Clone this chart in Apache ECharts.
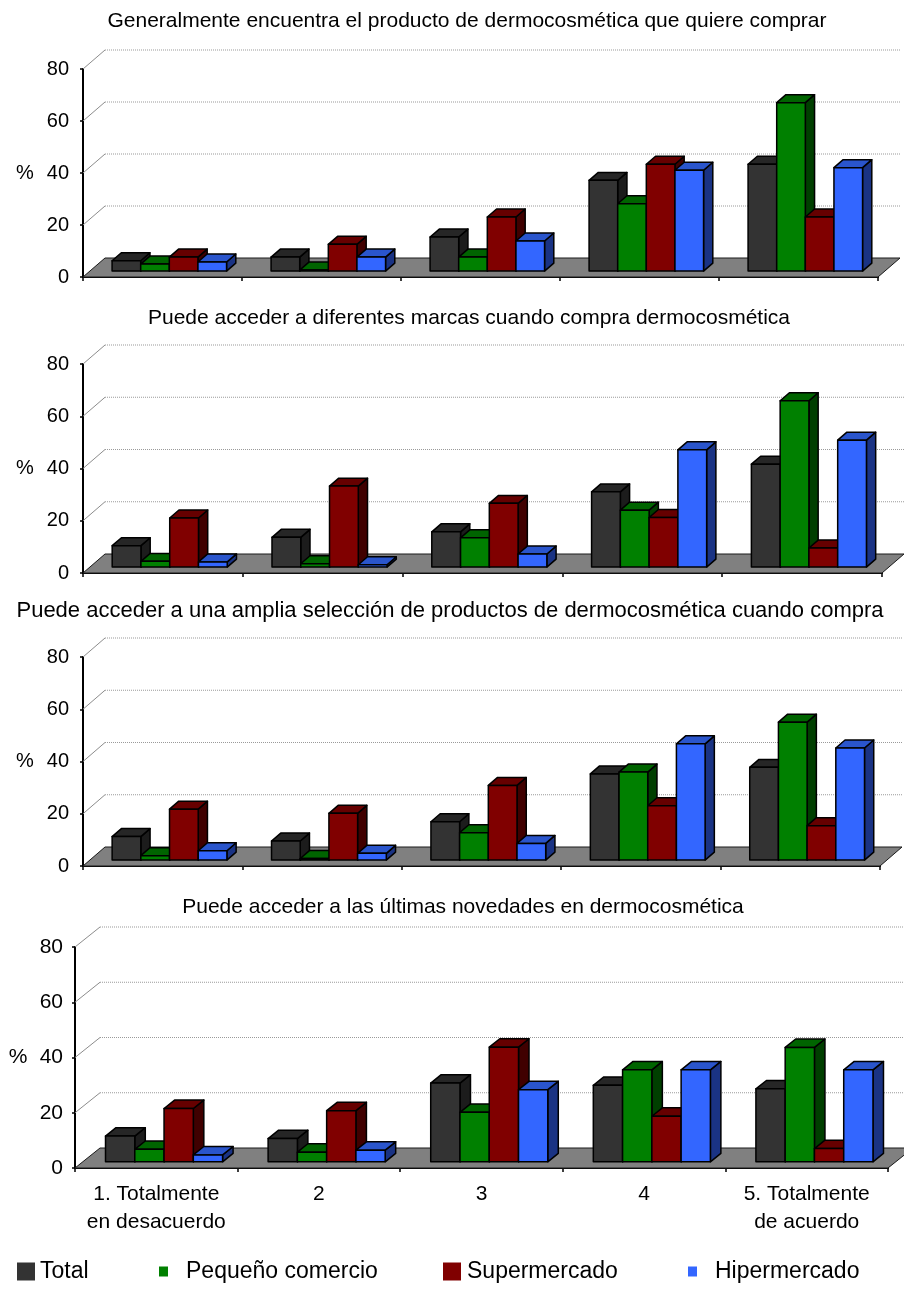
<!DOCTYPE html>
<html>
<head>
<meta charset="utf-8">
<script src="https://cdn.jsdelivr.net/npm/echarts@6/dist/echarts.min.js"></script>
<style>
  html, body { margin: 0; padding: 0; background: #ffffff; }
  #chart { width: 904px; height: 1297px; }
</style>
</head>
<body>
<div id="chart"></div>
<script>
// ---- data -------------------------------------------------------------
const categories = ['1. Totalmente\nen desacuerdo', '2', '3', '4', '5. Totalmente\nde acuerdo'];
const seriesNames = ['Total', 'Pequeño comercio', 'Supermercado', 'Hipermercado'];
const panelTitles = [
  'Generalmente encuentra el producto de dermocosmética que quiere comprar',
  'Puede acceder a diferentes marcas cuando compra dermocosmética',
  'Puede acceder a una amplia selección de productos de dermocosmética cuando compra',
  'Puede acceder a las últimas novedades en dermocosmética'
];
const yTicks = [0, 20, 40, 60, 80];

// Generalmente encuentra el producto que quiere comprar (%)
const encuentraTotal   = [4.0, 5.4, 13.1, 34.9, 41.1];
const encuentraPequeno = [2.7, 0.4, 5.4, 25.9, 64.8];
const encuentraSuper   = [5.4, 10.3, 20.8, 41.1, 20.8];
const encuentraHiper   = [3.5, 5.4, 11.6, 38.8, 39.8];

// Puede acceder a diferentes marcas (%)
const marcasTotal   = [8.2, 11.4, 13.5, 28.8, 39.4];
const marcasPequeno = [2.2, 1.3, 11.2, 21.8, 63.7];
const marcasSuper   = [18.8, 31.0, 24.4, 19.0, 7.3];
const marcasHiper   = [2.0, 0.9, 5.0, 44.9, 48.6];

// Puede acceder a una amplia selección de productos (%)
const seleccionTotal   = [9.0, 7.3, 14.7, 33.0, 35.5];
const seleccionPequeno = [1.7, 0.6, 10.5, 33.7, 52.8];
const seleccionSuper   = [19.5, 17.9, 28.6, 20.8, 13.2];
const seleccionHiper   = [3.6, 2.6, 6.4, 44.5, 42.9];

// Puede acceder a las últimas novedades (%)
const novedadesTotal   = [9.3, 8.4, 28.5, 27.7, 26.4];
const novedadesPequeno = [4.5, 3.5, 17.9, 33.3, 41.4];
const novedadesSuper   = [19.3, 18.5, 41.5, 16.5, 4.8];
const novedadesHiper   = [2.5, 4.2, 26.1, 33.3, 33.3];

const panelValues = [
  [encuentraTotal, encuentraPequeno, encuentraSuper, encuentraHiper],
  [marcasTotal, marcasPequeno, marcasSuper, marcasHiper],
  [seleccionTotal, seleccionPequeno, seleccionSuper, seleccionHiper],
  [novedadesTotal, novedadesPequeno, novedadesSuper, novedadesHiper]
];

// ---- look -------------------------------------------------------------
const FONT = '"Liberation Sans", Arial, Helvetica, sans-serif';
const faceColors = [
  { front: '#333333', top: '#262626', side: '#1c1c1c' },
  { front: '#008000', top: '#006400', side: '#003f00' },
  { front: '#800000', top: '#660000', side: '#400000' },
  { front: '#3366ff', top: '#2a55cc', side: '#1a3384' }
];

// front plane of each panel plus its oblique depth offset
const layouts = [
  { left: 83, top: 69,  width: 795, height: 208, dx: 22, dy: -19, titleX: 467, titleY: 21,  titleFont: 21, font: 20, margin: 14, pctX: 25 },
  { left: 83, top: 364, width: 799, height: 209, dx: 22, dy: -19, titleX: 469, titleY: 318, titleFont: 21, font: 20, margin: 14, pctX: 25 },
  { left: 83, top: 657, width: 797, height: 209, dx: 22, dy: -19, titleX: 450, titleY: 611, titleFont: 22, font: 20, margin: 14, pctX: 25 },
  { left: 75, top: 947, width: 813, height: 221, dx: 25, dy: -20, titleX: 463, titleY: 907, titleFont: 21, font: 21, margin: 12, pctX: 18 }
];
const CATEGORY_FONT = 21;
const LEGEND_FONT = 23;

const BAR_FRAC = 0.18;    // one bar's width as a share of the category width
const BAR_SHIFT = 0.31;   // bars stand this far into the floor depth
const BAR_DEPTH = 0.42;   // bar thickness as a share of the floor depth

function wallsRenderer(L) {
  return function (params, api) {
    const origin = api.coord([0, 0]);
    const cw = api.size([1, 0])[0];
    const x0 = origin[0] - cw / 2;
    const x1 = x0 + cw * categories.length;
    const y0 = origin[1];
    const children = [];
    yTicks.forEach(function (v) {
      if (v === 0) return;
      const y = api.coord([0, v])[1];
      children.push({
        type: 'line',
        shape: { x1: x0, y1: y, x2: x0 + L.dx, y2: y + L.dy },
        style: { stroke: '#8c8c8c', lineWidth: 1 }
      });
      children.push({
        type: 'line',
        shape: { x1: x0 + L.dx, y1: y + L.dy, x2: x1 + L.dx, y2: y + L.dy },
        style: { stroke: '#9a9a9a', lineWidth: 1, lineDash: [1, 1] }
      });
    });
    children.push({
      type: 'polygon',
      shape: { points: [[x0, y0], [x1, y0], [x1 + L.dx, y0 + L.dy], [x0 + L.dx, y0 + L.dy]] },
      style: { fill: '#808080', stroke: '#1a1a1a', lineWidth: 1 }
    });
    return { type: 'group', children: children };
  };
}

function barRenderer(L, si) {
  const c = faceColors[si];
  return function (params, api) {
    const cat = api.value(0);
    const val = api.value(1);
    const base = api.coord([cat, 0]);
    const tip = api.coord([cat, val]);
    const cw = api.size([1, 0])[0];
    const bw = cw * BAR_FRAC;
    const x = base[0] - 2 * bw + si * bw + L.dx * BAR_SHIFT;
    const yb = base[1] + L.dy * BAR_SHIFT;
    const yt = tip[1] + L.dy * BAR_SHIFT;
    const ddx = L.dx * BAR_DEPTH;
    const ddy = L.dy * BAR_DEPTH;
    const edge = { stroke: '#000000', lineWidth: 1.5, lineJoin: 'round' };
    return {
      type: 'group',
      children: [
        {
          type: 'polygon',
          shape: { points: [[x + bw, yb], [x + bw + ddx, yb + ddy], [x + bw + ddx, yt + ddy], [x + bw, yt]] },
          style: Object.assign({ fill: c.side }, edge)
        },
        {
          type: 'polygon',
          shape: { points: [[x, yt], [x + bw, yt], [x + bw + ddx, yt + ddy], [x + ddx, yt + ddy]] },
          style: Object.assign({ fill: c.top }, edge)
        },
        {
          type: 'rect',
          shape: { x: x, y: yt, width: bw, height: yb - yt },
          style: Object.assign({ fill: c.front }, edge)
        }
      ]
    };
  };
}

const grids = [], xAxes = [], yAxes = [], series = [], graphics = [];

layouts.forEach(function (L, p) {
  grids.push({ left: L.left, top: L.top, width: L.width, height: L.height, outerBoundsMode: 'none', containLabel: false });
  const last = p === layouts.length - 1;
  xAxes.push({
    type: 'category', gridIndex: p, data: categories, boundaryGap: true,
    axisLine: { show: true, lineStyle: { color: '#000', width: 2 } },
    axisTick: { show: true, length: 4, lineStyle: { color: '#000', width: 1.5 } },
    axisLabel: {
      show: last, color: '#000', fontFamily: FONT, fontSize: CATEGORY_FONT,
      lineHeight: 28, margin: 12, interval: 0
    },
    splitLine: { show: false }
  });
  yAxes.push({
    type: 'value', gridIndex: p, min: 0, max: 80, interval: 20,
    axisLine: { show: true, lineStyle: { color: '#000', width: 2 } },
    axisTick: { show: true, length: 3, lineStyle: { color: '#000', width: 1.5 } },
    axisLabel: { color: '#000', fontFamily: FONT, fontSize: L.font, margin: L.margin },
    splitLine: { show: false }
  });
  series.push({
    type: 'custom', name: 'walls' + p, xAxisIndex: p, yAxisIndex: p,
    silent: true, clip: false, z: 1,
    data: [[0, 0]],
    renderItem: wallsRenderer(L)
  });
  panelValues[p].forEach(function (vals, si) {
    series.push({
      type: 'custom', name: seriesNames[si], xAxisIndex: p, yAxisIndex: p,
      clip: false, z: 2 + si,
      itemStyle: { color: faceColors[si].front },
      data: vals.map(function (v, i) { return [i, v]; }),
      renderItem: barRenderer(L, si)
    });
  });
  graphics.push({
    type: 'text', x: L.titleX, y: L.titleY,
    style: { text: panelTitles[p], font: L.titleFont + 'px ' + FONT, fill: '#000', textAlign: 'center', textVerticalAlign: 'middle' }
  });
  graphics.push({
    type: 'text', x: L.pctX, y: L.top + L.height / 2,
    style: { text: '%', font: L.font + 'px ' + FONT, fill: '#000', textAlign: 'center', textVerticalAlign: 'middle' }
  });
});

// legend entries: two large squares and two small markers
const legendSpecs = [
  { left: 17,  size: [18, 18], pad: 0 },
  { left: 159, size: [9, 10],  pad: 13 },
  { left: 443, size: [18, 18], pad: 1 },
  { left: 688, size: [9, 10],  pad: 13 }
];
const legends = legendSpecs.map(function (s, i) {
  return {
    data: [seriesNames[i]], left: s.left, top: 1260, orient: 'horizontal',
    icon: 'rect', itemWidth: s.size[0], itemHeight: s.size[1], itemGap: 0,
    padding: 0, selectedMode: false,
    itemStyle: { borderWidth: 0 },
    textStyle: { color: '#000', fontFamily: FONT, fontSize: LEGEND_FONT, padding: [0, 0, 0, s.pad] }
  };
});

const chart = echarts.init(document.getElementById('chart'), null, { renderer: 'canvas' });
chart.setOption({
  animation: false,
  backgroundColor: '#ffffff',
  color: faceColors.map(function (c) { return c.front; }),
  textStyle: { fontFamily: FONT },
  grid: grids,
  xAxis: xAxes,
  yAxis: yAxes,
  legend: legends,
  graphic: graphics,
  series: series
});
</script>
</body>
</html>
